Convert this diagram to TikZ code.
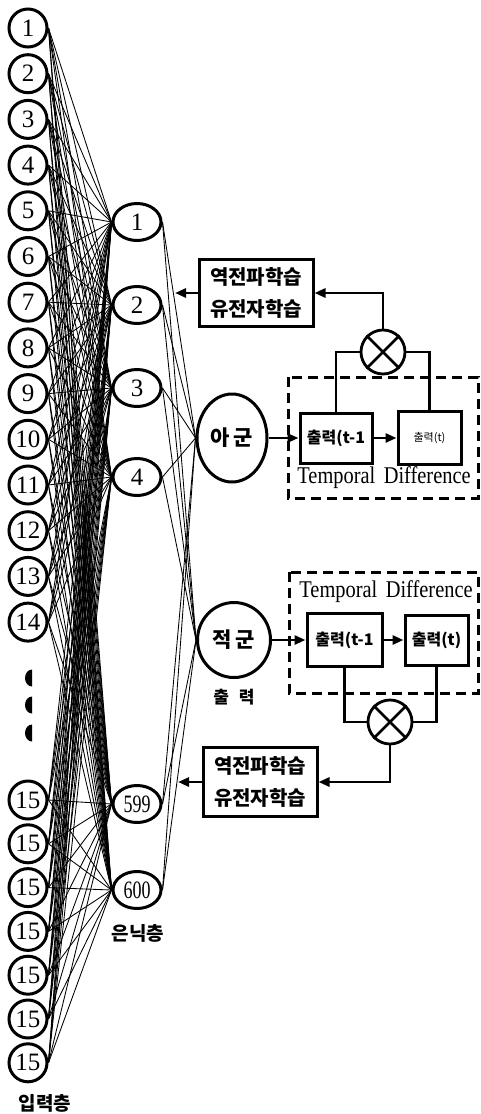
\documentclass[tikz,border=0pt]{standalone}
\usepackage{fontspec}
\setmainfont{Liberation Serif}
\newfontfamily\krfont{Noto Sans CJK KR}
\usetikzlibrary{shapes.geometric,arrows.meta}

\tikzset{
  innode/.style={circle, draw, line width=3pt, minimum size=38pt, inner sep=0pt,
    font=\fontsize{25}{27}\selectfont},
  hidnode/.style={ellipse, draw, line width=3pt, minimum width=48pt, minimum height=37pt,
    inner sep=0pt, font=\fontsize{25}{27}\selectfont},
  outnode/.style={ellipse, draw, line width=3pt, inner sep=0pt,
    font=\krfont\bfseries\fontsize{21}{23}\selectfont},
  learnbox/.style={draw, line width=3pt, minimum width=114pt, minimum height=67pt,
    align=center, font=\krfont\bfseries\fontsize{20}{32}\selectfont},
  outbox/.style={draw, line width=3pt, inner sep=0pt,
    font=\krfont\bfseries\fontsize{16}{18}\selectfont},
  mult/.style={circle, draw, line width=2.8pt, minimum size=44pt, inner sep=0pt},
  wire/.style={line width=0.85pt},
  link/.style={line width=2.8pt},
  flow/.style={line width=2.8pt, -{Triangle[length=11pt,width=9pt]}},
  tdbox/.style={line width=3pt, dash pattern=on 10pt off 6pt},
  tdlabel/.style={font=\fontsize{24}{26}\selectfont},
  layerlbl/.style={font=\krfont\bfseries\fontsize{19}{21}\selectfont}
}

\begin{document}
\begin{tikzpicture}[x=1pt, y=-1pt]
\useasboundingbox (0,0) rectangle (481,1114);

% ===== Input layer =====
\foreach \i in {1,...,14}
  \node[innode] (in\i) at (28,{28+45.7*(\i-1)}) {\i};
\foreach \j in {1,...,7}
  \node[innode] (inb\j) at (28,{800+43.8*(\j-1)}) {15};
% skipped inputs
\foreach \y in {678,705,733}
  \fill (32,\y-8.5) arc[start angle=-90, end angle=-270, x radius=7, y radius=8.5] -- cycle;
\node[layerlbl] (inlbl) at (45,1103) {입력층};

% ===== Hidden layer =====
\foreach \n/\y in {1/222,2/305,3/388,4/477}
  \node[hidnode] (h\n) at (137,\y) {\n};
\node[hidnode] (h599) at (137,804) {\scalebox{0.72}[1]{599}};
\node[hidnode] (h600) at (137,890) {\scalebox{0.72}[1]{600}};
\node[layerlbl] (hidlbl) at (138,933) {은닉층};

% Input -> hidden, fully connected
\foreach \i in {1,...,14}
  \foreach \h in {1,2,3,4,599,600}
    \draw[wire] (in\i.east) -- (h\h.west);
\foreach \j in {1,...,7}
  \foreach \h in {1,2,3,4,599,600}
    \draw[wire] (inb\j.east) -- (h\h.west);

% ===== Output layer =====
\node[outnode, minimum width=70pt, minimum height=88pt] (ag) at (232,438) {아\,군};
\node[outnode, minimum width=73pt, minimum height=75pt] (jg) at (234,640) {적\,군};
\node[layerlbl, font=\krfont\bfseries\fontsize{17}{19}\selectfont] (outlbl) at (234,697) {출\hspace{10pt}력};
\foreach \h in {1,2,3,4,599,600} {
  \draw[wire] (h\h.east) -- (ag.west);
  \draw[wire] (h\h.east) -- (jg.west);
}

% ===== Upper temporal difference loop =====
\draw[tdbox] (288,377) rectangle (478,498);
\node[outbox, minimum width=72pt, minimum height=50pt] (tprev) at (336,438) {출력(t-1};
\node[outbox, minimum width=63pt, minimum height=53pt,
      font=\krfont\fontsize{11}{13}\selectfont] (tcur) at (429.5,438) {출력(t)};
\node[tdlabel] (ttd) at (384,478) {\scalebox{0.85}[1]{Temporal\, Difference}};
\node[mult] (tm) at (383,352) {};
\draw[link] (tm.north west) -- (tm.south east) (tm.north east) -- (tm.south west);
\node[learnbox] (tfb) at (256,293) {역전파학습\\유전자학습};
\coordinate (tfbend) at (175,293);

\draw[flow] (ag.east) -- (tprev.west);
\draw[flow] (tprev.east) -- (tcur.west);
\draw[link] (tprev.north) |- (tm.west);
\draw[link] (tcur.north) |- (tm.east);
\draw[flow] (tm.north) |- (tfb.east);
\draw[flow] (tfb.west) -- (tfbend);

% ===== Lower temporal difference loop =====
\draw[tdbox] (289,572) rectangle (478,693);
\node[tdlabel] (btd) at (386,592) {\scalebox{0.85}[1]{Temporal\, Difference}};
\node[outbox, minimum width=75pt, minimum height=53pt] (bprev) at (344.5,640) {출력(t-1};
\node[outbox, minimum width=63pt, minimum height=50pt] (bcur) at (436.5,640) {출력(t)};
\node[mult] (bm) at (390,722) {};
\draw[link] (bm.north west) -- (bm.south east) (bm.north east) -- (bm.south west);
\node[learnbox, minimum height=69pt] (bfb) at (260,782) {역전파학습\\유전자학습};
\coordinate (bfbend) at (178,782);

\draw[flow] (jg.east) -- (bprev.west);
\draw[flow] (bprev.east) -- (bcur.west);
\draw[link] (bprev.south) |- (bm.west);
\draw[link] (bcur.south) |- (bm.east);
\draw[flow] (bm.south) |- (bfb.east);
\draw[flow] (bfb.west) -- (bfbend);

\end{tikzpicture}
\end{document}
